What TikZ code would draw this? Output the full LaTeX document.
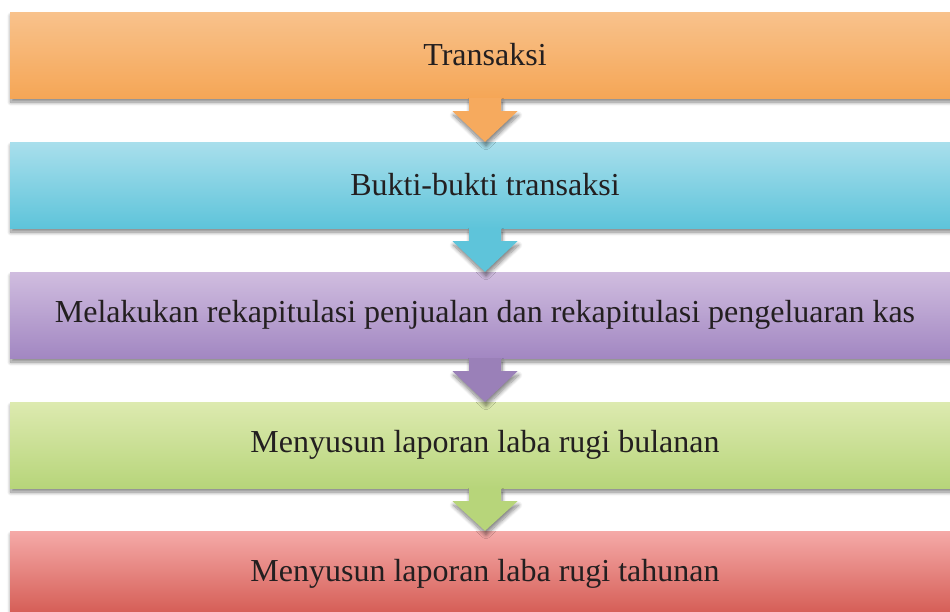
\documentclass[tikz,border=0pt]{standalone}
\usepackage{fontspec}
\setmainfont{Liberation Serif}
\usetikzlibrary{shadows.blur}

\definecolor{txtgray}{HTML}{231F20}
\definecolor{orangetop}{HTML}{F8C28C}
\definecolor{orangebot}{HTML}{F5A656}
\definecolor{cyantop}{HTML}{A9DFEC}
\definecolor{cyanbot}{HTML}{5EC4DA}
\definecolor{purpletop}{HTML}{D0BDDF}
\definecolor{purplebot}{HTML}{A287C2}
\definecolor{greentop}{HTML}{DDEAB0}
\definecolor{greenbot}{HTML}{B7D57A}
\definecolor{redtop}{HTML}{F5AAA8}
\definecolor{redbot}{HTML}{D45A52}

\tikzset{
  softshadow/.style={blur shadow={shadow xshift=1pt, shadow yshift=-4pt,
      shadow blur radius=4pt, shadow blur steps=8, shadow opacity=50}},
  flowbox/.style={minimum width=950pt, minimum height=86pt, inner sep=0pt,
      text=txtgray, font=\fontsize{32}{38}\selectfont, softshadow},
  linkfill/.style={softshadow}
}

% arrow from the bottom of one box down to the top of the next
\newcommand{\linkarrow}[3]{%
  \fill[linkfill, #3] ([xshift=-16pt]#1.south) -- ([xshift=-16pt,yshift=-13pt]#1.south)
    -- ([xshift=-32.5pt,yshift=-13pt]#1.south) -- (#2.north)
    -- ([xshift=32.5pt,yshift=-13pt]#1.south) -- ([xshift=16pt,yshift=-13pt]#1.south)
    -- ([xshift=16pt]#1.south) -- cycle;}

\begin{document}
\begin{tikzpicture}[x=1pt, y=-1pt]
  \useasboundingbox (0,0) rectangle (950,611);

  \node[flowbox, top color=orangetop, bottom color=orangebot] (trans) at (485,55) {Transaksi};
  \node[flowbox, top color=cyantop, bottom color=cyanbot] (bukti) at (485,185) {Bukti-bukti transaksi};
  \node[flowbox, top color=purpletop, bottom color=purplebot] (rekap) at (485,315) {Melakukan rekapitulasi penjualan dan rekapitulasi pengeluaran kas};
  \node[flowbox, top color=greentop, bottom color=greenbot] (bulan) at (485,445) {Menyusun laporan laba rugi bulanan};
  \node[flowbox, top color=redtop, bottom color=redbot] (tahun) at (485,574) {Menyusun laporan laba rugi tahunan};

  \linkarrow{trans}{bukti}{orangebot!95!white}
  \linkarrow{bukti}{rekap}{cyanbot}
  \linkarrow{rekap}{bulan}{purplebot!95!black}
  \linkarrow{bulan}{tahun}{greenbot}
\end{tikzpicture}
\end{document}
